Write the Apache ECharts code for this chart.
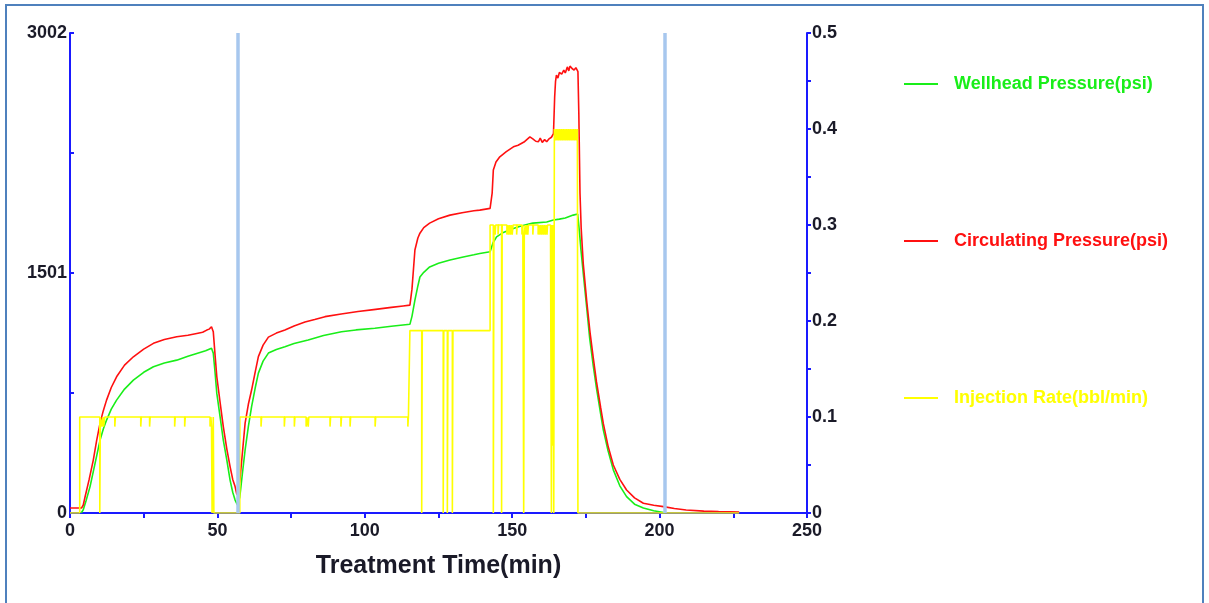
<!DOCTYPE html>
<html>
<head>
<meta charset="utf-8">
<script src="https://cdn.jsdelivr.net/npm/echarts@6/dist/echarts.min.js"></script>
<style>
  html, body { margin: 0; padding: 0; background: #fff; overflow: hidden; }
  #frame { position: absolute; left: 5px; top: 4px; width: 1199px; height: 640px; border: 2px solid #4f81bd; box-sizing: border-box; }
  #chart { position: absolute; left: 0; top: 0; width: 1209px; height: 603px; }
</style>
</head>
<body>
<div id="frame"></div>
<div id="chart"></div>
<script>
// [minutes, psi]
const wellheadPressure = [
  [3.8, 0], [4.5, 20], [5.5, 80], [6.8, 165], [8.5, 310], [10.2, 456], [11.3, 525], [12.4, 581],
  [14, 650], [15.8, 706], [18.5, 775], [21.5, 831], [25, 880], [28.3, 915], [32, 938], [36.2, 956],
  [40, 980], [43, 998], [46, 1015], [48, 1030], [48.6, 1000], [49.2, 880], [49.8, 748], [51, 590],
  [52, 456], [53.2, 330], [54.3, 206], [55.2, 130], [56, 81], [56.8, 50], [57.6, 100], [58.5, 250],
  [59.4, 394], [60.5, 540], [61.6, 665], [62.8, 780], [63.9, 875], [65.5, 950], [67.3, 1000],
  [70, 1022], [72.9, 1040], [76, 1060], [80.8, 1082], [86, 1110], [92.1, 1134], [97, 1145],
  [103.4, 1155], [109, 1168], [115.3, 1180], [116, 1230], [117, 1331], [118, 1420], [118.7, 1476],
  [120, 1505], [122, 1539], [125, 1562], [128.9, 1582], [133, 1600], [137, 1615], [139, 1623],
  [142.5, 1634], [143.5, 1690], [144.7, 1727], [147, 1755], [150.4, 1780], [153, 1795], [157, 1813],
  [161.7, 1820], [164, 1832], [166, 1838], [168, 1845], [170.7, 1863], [172.2, 1870], [172.8, 1760],
  [173.3, 1650], [174.1, 1500], [175.3, 1280], [176.3, 1090], [177.5, 920], [178.6, 780], [180, 620],
  [180.9, 520], [182.5, 390], [184.3, 270], [186.5, 170], [188.8, 102], [191.5, 55], [194.5, 31],
  [198, 14], [201.3, 3], [201.8, 0]
];

const circulatingPressure = [
  [0, 31], [3.9, 31], [4.5, 50], [5.1, 100], [6.5, 210], [7.9, 331], [9, 450], [10.2, 562],
  [11.3, 640], [12.4, 706], [14, 785], [15.8, 852], [18.5, 925], [21.5, 977], [25, 1025],
  [28.3, 1061], [32, 1085], [36.2, 1102], [40, 1112], [43, 1123], [45, 1130], [46.4, 1144],
  [47.2, 1150], [48, 1165], [48.6, 1134], [49.2, 990], [49.8, 852], [51, 680], [52, 540],
  [53.2, 400], [54.3, 290], [55.2, 210], [56, 165], [56.6, 115], [57, 120], [57.6, 200], [58.5, 380],
  [59.4, 562], [60.5, 680], [61.6, 769], [62.8, 880], [63.9, 978], [65.5, 1050], [67.3, 1100],
  [70, 1125], [72.9, 1144], [76, 1170], [79.7, 1194], [83, 1210], [86.5, 1228], [92, 1245],
  [97.7, 1260], [103, 1272], [109, 1286], [113, 1295], [115.3, 1300], [116, 1400], [117, 1645],
  [118, 1720], [118.7, 1750], [120, 1785], [122, 1813], [125, 1840], [128.9, 1863], [133, 1878],
  [137, 1890], [139, 1894], [142.5, 1905], [143.2, 2000], [143.6, 2145], [144.5, 2195],
  [145.8, 2228], [148, 2260], [150.4, 2290], [152, 2300], [154, 2320], [156, 2352], [157, 2340],
  [158, 2325], [158.9, 2322], [159.5, 2345], [160.2, 2318], [161, 2335], [161.7, 2322],
  [162.5, 2340], [163.3, 2350], [164, 2372], [164.4, 2600], [164.7, 2700], [165, 2738],
  [165.5, 2720], [166, 2755], [166.8, 2745], [167.5, 2770], [168, 2752], [168.7, 2790],
  [169.2, 2765], [169.6, 2795], [170.3, 2780], [171, 2770], [171.6, 2785], [172.3, 2760],
  [172.6, 2500], [173, 2000], [173.4, 1780], [174.1, 1560], [175.3, 1320], [176.4, 1130],
  [177.5, 970], [178.6, 820], [180, 660], [180.9, 560], [182.5, 420], [184.3, 300], [186.5, 210],
  [188.8, 144], [191.5, 95], [194.5, 61], [198, 48], [201.3, 40], [205, 28], [209, 19], [215, 12],
  [220, 9], [227, 6]
];

// [minutes, bbl/min] - value holds from its time until the next point
const injectionRate = [
  [0, 0], [3.3, 0.1], [10.1, 0], [10.3, 0.1], [10.8, 0.09], [11.2, 0.1], [11.4, 0.09], [11.8, 0.1],
  [15.2, 0.09], [15.4, 0.1], [24.0, 0.09], [24.2, 0.1], [27.0, 0.09], [27.2, 0.1], [35.5, 0.09],
  [35.7, 0.1], [38.9, 0.09], [39.1, 0.1], [47.5, 0.09], [47.8, 0.1], [48.0, 0.09], [48.2, 0],
  [48.6, 0.1], [48.8, 0],
  [57.6, 0.1], [64.8, 0.09], [65.0, 0.1], [72.7, 0.09], [72.9, 0.1], [76.1, 0.09], [76.3, 0.1],
  [80.1, 0.09], [80.3, 0.1], [80.8, 0.09], [81.0, 0.1], [88.2, 0.09], [88.4, 0.1], [91.9, 0.09],
  [92.1, 0.1], [95.0, 0.09], [95.2, 0.1], [103.5, 0.09], [103.7, 0.1], [114.6, 0.09], [114.8, 0.1],
  [115.3, 0.19], [119.3, 0], [119.5, 0.19], [126.6, 0], [126.8, 0.19], [128.0, 0], [128.2, 0.19],
  [129.7, 0], [129.9, 0.19],
  [142.5, 0.3], [143.6, 0], [143.8, 0.3], [144.2, 0.29], [144.4, 0.3], [145.2, 0.29], [145.4, 0.3],
  [146.4, 0], [146.6, 0.3],
  [148.2, 0.29], [148.5, 0.3], [148.8, 0.29], [149.1, 0.3], [149.4, 0.29], [149.7, 0.3],
  [150.0, 0.29], [150.3, 0.3], [151.5, 0.29], [151.7, 0.3],
  [153.3, 0.29], [153.6, 0.3], [153.9, 0], [154.1, 0.29], [154.4, 0.3], [154.7, 0.29], [155.0, 0.3],
  [155.3, 0.29], [155.5, 0.3], [157.0, 0.29], [157.2, 0.3],
  [158.8, 0.29], [159.1, 0.3], [159.4, 0.29], [159.7, 0.3], [160.0, 0.29], [160.3, 0.3],
  [160.6, 0.29], [160.9, 0.3], [161.2, 0.29], [161.5, 0.3], [161.8, 0.29], [162.0, 0.3],
  [163.0, 0.29], [163.3, 0], [163.5, 0.3], [163.7, 0.07], [163.9, 0.3], [164.1, 0], [164.3, 0.4],
  [164.6, 0.388], [164.9, 0.4], [165.2, 0.388], [165.5, 0.4], [165.8, 0.388], [166.1, 0.4],
  [166.4, 0.388], [166.7, 0.4], [167.0, 0.388], [167.3, 0.4], [167.6, 0.388], [167.9, 0.4],
  [168.2, 0.388], [168.5, 0.4], [168.8, 0.388], [169.1, 0.4], [169.4, 0.388], [169.7, 0.4],
  [170.0, 0.388], [170.3, 0.4], [170.6, 0.388], [170.9, 0.4], [171.2, 0.388], [171.5, 0.4],
  [171.8, 0.388], [172.1, 0.4], [172.3, 0], [227, 0]
];

// vertical stage markers (minutes)
const markerTimes = [56.75, 201.8];

const seriesNames = ['Wellhead Pressure(psi)', 'Circulating Pressure(psi)', 'Injection Rate(bbl/min)'];
const seriesColors = ['#19ee19', '#ff1010', '#ffff00'];

const axisBlue = '#1a1aff';
const fontFamily = 'Liberation Sans, Arial, sans-serif';
const labelFont = { color: '#1a1a28', fontWeight: 'bold', fontSize: 18, fontFamily };

const chart = echarts.init(document.getElementById('chart'), null, { renderer: 'canvas' });

chart.setOption({
  animation: false,
  backgroundColor: 'transparent',
  grid: { left: 70, right: 402, top: 33, bottom: 90, containLabel: false },
  legend: {
    orient: 'vertical',
    left: 899,
    top: 70,
    icon: 'rect',
    itemWidth: 34,
    itemHeight: 2,
    itemGap: 139,
    textStyle: { fontWeight: 'bold', fontSize: 18, fontFamily, padding: [4, 0, 0, 11] },
    data: seriesNames.map((n, i) => ({ name: n, textStyle: { color: seriesColors[i] } }))
  },
  xAxis: {
    type: 'value',
    min: 0,
    max: 250,
    interval: 25,
    z: 3,
    name: 'Treatment Time(min)',
    nameLocation: 'middle',
    nameGap: 41,
    nameTextStyle: { color: '#1a1a28', fontWeight: 'bold', fontSize: 25, fontFamily },
    axisLine: { lineStyle: { color: axisBlue, width: 2 } },
    axisTick: { inside: false, length: 5, lineStyle: { color: axisBlue, width: 2 } },
    axisLabel: Object.assign({ margin: 9, formatter: v => (Math.round(v) % 50 === 0 ? String(Math.round(v)) : '') }, labelFont),
    splitLine: { show: false }
  },
  yAxis: [
    {
      type: 'value',
      position: 'left',
      min: 0,
      max: 3002,
      interval: 750.5,
      z: 3,
      axisLine: { show: true, lineStyle: { color: axisBlue, width: 2 } },
      axisTick: { show: true, inside: true, length: 4, lineStyle: { color: axisBlue, width: 2 } },
      axisLabel: Object.assign({ margin: 3, formatter: v => (Math.round(v) % 1501 === 0 ? String(Math.round(v)) : '') }, labelFont),
      splitLine: { show: false }
    },
    {
      type: 'value',
      position: 'right',
      min: 0,
      max: 0.5,
      interval: 0.05,
      z: 3,
      axisLine: { show: true, lineStyle: { color: axisBlue, width: 2 } },
      axisTick: { show: true, inside: false, length: 4, lineStyle: { color: axisBlue, width: 2 } },
      axisLabel: Object.assign({ margin: 5, formatter: v => (Math.round(v * 100) % 10 === 0 ? String(Math.round(v * 10) / 10) : '') }, labelFont),
      splitLine: { show: false }
    }
  ],
  series: [
    {
      name: seriesNames[0],
      type: 'line',
      yAxisIndex: 0,
      data: wellheadPressure,
      symbol: 'none',
      lineStyle: { color: seriesColors[0], width: 1.6 },
      itemStyle: { color: seriesColors[0] },
      markLine: {
        silent: true,
        symbol: 'none',
        label: { show: false },
        lineStyle: { color: '#a7c7ee', width: 3.5, type: 'solid' },
        data: markerTimes.map(t => ({ xAxis: t }))
      }
    },
    {
      name: seriesNames[1],
      type: 'line',
      yAxisIndex: 0,
      data: circulatingPressure,
      symbol: 'none',
      lineStyle: { color: seriesColors[1], width: 1.6 },
      itemStyle: { color: seriesColors[1] }
    },
    {
      name: seriesNames[2],
      type: 'line',
      yAxisIndex: 1,
      step: 'end',
      data: injectionRate,
      symbol: 'none',
      lineStyle: { color: seriesColors[2], width: 1.6 },
      itemStyle: { color: seriesColors[2] }
    }
  ]
});
</script>
</body>
</html>
